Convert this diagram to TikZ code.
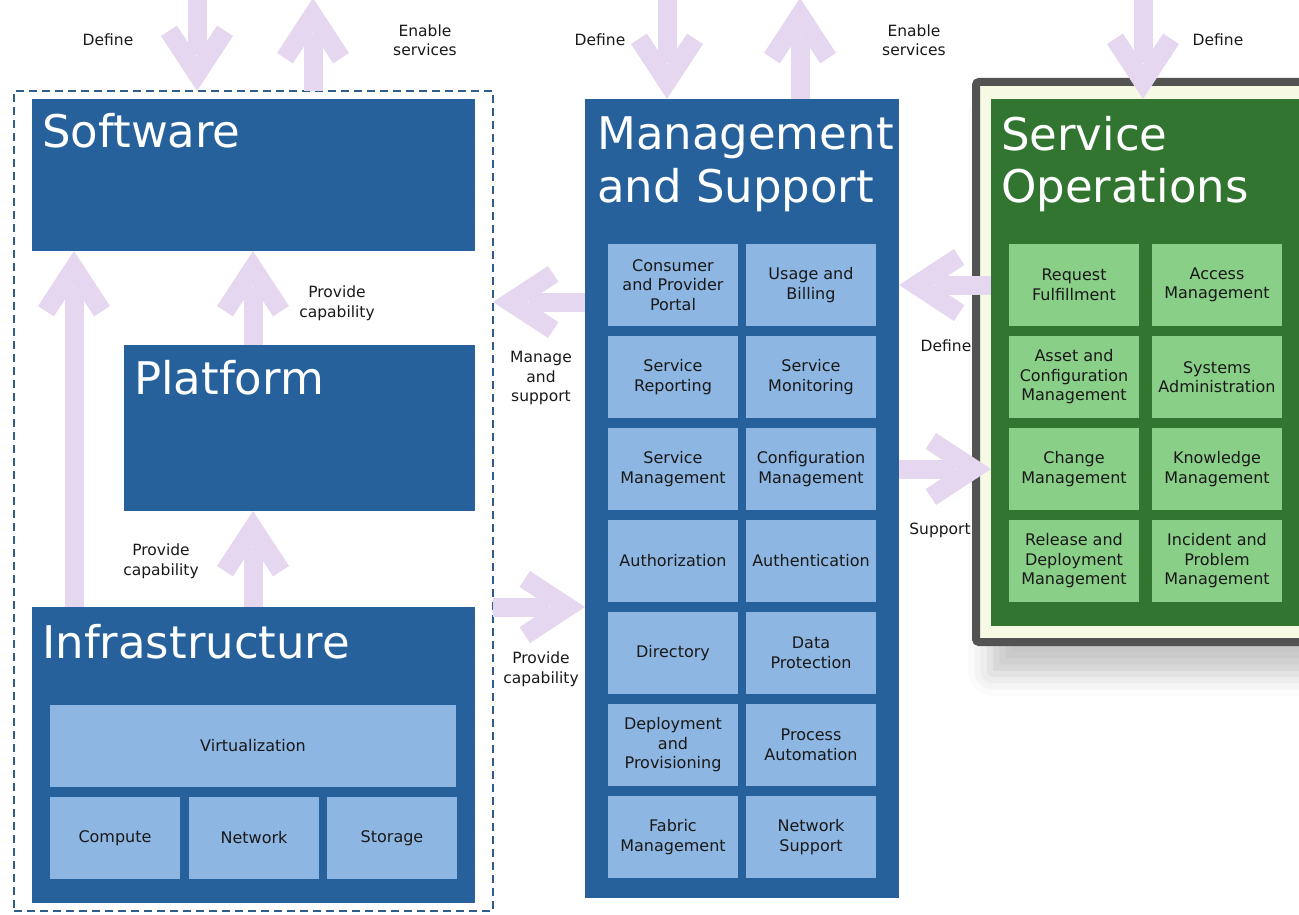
\documentclass[tikz,border=0pt]{standalone}
\usepackage{fontspec}
\setmainfont{DejaVu Sans}
\usetikzlibrary{positioning,shadows.blur}

\definecolor{dblue}{HTML}{26619C}
\definecolor{lblue}{HTML}{8DB6E2}
\definecolor{dgreen}{HTML}{317531}
\definecolor{lgreen}{HTML}{8ACF88}
\definecolor{lav}{HTML}{E6D7F0}
\definecolor{opsgray}{HTML}{535353}
\definecolor{cream}{HTML}{F6F9E3}
\definecolor{dashblue}{HTML}{2F5D8C}

\pgfdeclarearrow{
  name = Chevron,
  setup code = {
    \pgfarrowssettipend{0pt}
    \pgfarrowssetlineend{-36pt}
    \pgfarrowssetbackend{-66pt}
    \pgfarrowsupperhullpoint{0pt}{0pt}
    \pgfarrowsupperhullpoint{-55pt}{36pt}
    \pgfarrowsupperhullpoint{-65.4pt}{20.1pt}
  },
  drawing code = {
    \pgfpathmoveto{\pgfpointorigin}
    \pgfpathlineto{\pgfqpoint{-55pt}{36pt}}
    \pgfpathlineto{\pgfqpoint{-65.4pt}{20.1pt}}
    \pgfpathlineto{\pgfqpoint{-34.7pt}{0pt}}
    \pgfpathlineto{\pgfqpoint{-65.4pt}{-20.1pt}}
    \pgfpathlineto{\pgfqpoint{-55pt}{-36pt}}
    \pgfpathclose
    \pgfusepathqfill
  }
}

\tikzset{
  laybox/.style={fill=dblue, inner sep=0pt, outer sep=0pt},
  laytitle/.style={text=white, font=\fontsize{45}{53}\selectfont, inner sep=0pt, anchor=base west, align=left},
  svcbox/.style={fill=lblue, minimum width=130pt, minimum height=82pt, inner sep=0pt,
    align=center, font=\fontsize{16}{19.5}\selectfont, text=black!90},
  opsbox/.style={svcbox, fill=lgreen},
  flowlbl/.style={align=center, font=\fontsize{15.5}{19.5}\selectfont, inner sep=0pt, text=black!90},
  bigarr/.style={color=lav, line width=19pt, -Chevron},
}

\begin{document}
\begin{tikzpicture}[x=1pt, y=-1pt]
  \useasboundingbox (0,0) rectangle (1299,915);
  \clip (0,0) rectangle (1299,915);

  \node[draw=dashblue, line width=1.5pt, dash pattern=on 8pt off 5pt, minimum width=479pt, minimum height=820pt,
        inner sep=0pt, outer sep=0pt] (iaas) at (253.5,501) {};

  \node[laybox, minimum width=443pt, minimum height=152pt] (soft) at (253.5,175) {};
  \node[laybox, minimum width=351pt, minimum height=166pt] (plat) at (299.5,428) {};
  \node[laybox, minimum width=443pt, minimum height=296pt] (infra) at (253.5,755) {};
  \node[laytitle] (softt) at ([xshift=10pt,yshift=-49pt]soft.north west) {Software};
  \node[laytitle] (platt) at ([xshift=10pt,yshift=-49pt]plat.north west) {Platform};
  \node[laytitle] (infrat) at ([xshift=10pt,yshift=-51pt]infra.north west) {Infrastructure};

  \node[svcbox, minimum width=406pt] (virt) at (253,746) {Virtualization};
  \foreach \x/\t in {115/Compute, 254/Network, 392/Storage}
    \node[svcbox] (\t) at (\x,838) {\t};

  \node[laybox, minimum width=314pt, minimum height=799pt] (mgmt) at (742,498.5) {};
  \node[laytitle] (mgmtt) at ([xshift=12pt,yshift=-103pt]mgmt.north west) {Management\\and Support};

  \foreach [count=\i] \x/\y/\t in {673/285/{Consumer\\and Provider\\Portal}, 811/285/{Usage and\\Billing},
      673/377/{Service\\Reporting}, 811/377/{Service\\Monitoring},
      673/469/{Service\\Management}, 811/469/{Configuration\\Management},
      673/561/Authorization, 811/561/Authentication,
      673/653/Directory, 811/653/{Data\\Protection},
      673/745/{Deployment\\and\\Provisioning}, 811/745/{Process\\Automation},
      673/837/{Fabric\\Management}, 811/837/{Network\\Support}}
    \node[svcbox] (m\i) at (\x,\y) {\t};

  \node[draw=opsgray, fill=cream, line width=8pt, rounded corners=3pt, minimum width=364pt, minimum height=560pt,
        inner sep=0pt, outer sep=0pt,
        blur shadow={shadow xshift=14pt, shadow yshift=-32pt, shadow blur radius=22pt, shadow opacity=22}]
        (opsframe) at (1158,362) {};
  \node[fill=dgreen, minimum width=339pt, minimum height=527pt, inner sep=0pt, outer sep=0pt] (ops) at (1160.5,362.5) {};
  \node[laytitle] (opst) at ([xshift=10pt,yshift=-104pt]ops.north west) {Service\\Operations};

  \foreach [count=\i] \x/\y/\t in {1074/285/{Request\\Fulfillment}, 1217/285/{Access\\Management},
      1074/377/{Asset and\\Configuration\\Management}, 1217/377/{Systems\\Administration},
      1074/469/{Change\\Management}, 1217/469/{Knowledge\\Management},
      1074/561/{Release and\\Deployment\\Management}, 1217/561/{Incident and\\Problem\\Management}}
    \node[opsbox] (o\i) at (\x,\y) {\t};

  \coordinate (c1) at (74,0);
  \coordinate (c2) at (253,0);
  \coordinate (d1) at (197,-30);
  \coordinate (e1) at (313,-2);
  \coordinate (d2) at (667,-30);
  \coordinate (e2) at (800,-2);
  \coordinate (d3) at (1143,-30);
  \coordinate (r1) at (0,302);
  \coordinate (r2) at (0,607);
  \coordinate (r3) at (0,285);
  \coordinate (r4) at (0,469);

  \draw[bigarr] (d1) -- (iaas.north -| d1);
  \draw[bigarr] (iaas.north -| e1) -- (e1);
  \draw[bigarr] (infra.north -| c1) -- (soft.south -| c1);
  \draw[bigarr] (plat.north -| c2) -- (soft.south -| c2);
  \draw[bigarr] (infra.north -| c2) -- (plat.south -| c2);
  \draw[bigarr] (mgmt.west |- r1) -- (iaas.east |- r1);
  \draw[bigarr] (iaas.east |- r2) -- (mgmt.west |- r2);
  \draw[bigarr] (d2) -- (mgmt.north -| d2);
  \draw[bigarr] (mgmt.north -| e2) -- (e2);
  \draw[bigarr] (d3) -- (ops.north -| d3);
  \draw[bigarr] (ops.west |- r3) -- (mgmt.east |- r3);
  \draw[bigarr] (mgmt.east |- r4) -- (ops.west |- r4);

  \node[flowlbl] (l1) at (108,40) {Define};
  \node[flowlbl] (l2) at (425,40) {Enable\\services};
  \node[flowlbl] (l3) at (337,303) {Provide\\capability};
  \node[flowlbl] (l4) at (161,561) {Provide\\capability};
  \node[flowlbl] (l5) at (600,40) {Define};
  \node[flowlbl] (l6) at (914,40) {Enable\\services};
  \node[flowlbl] (l7) at (1218,40) {Define};
  \node[flowlbl] (l8) at (541,378) {Manage\\and\\support};
  \node[flowlbl] (l9) at (541,669) {Provide\\capability};
  \node[flowlbl] (l10) at (946,346) {Define};
  \node[flowlbl] (l11) at (940,530) {Support};
\end{tikzpicture}
\end{document}
